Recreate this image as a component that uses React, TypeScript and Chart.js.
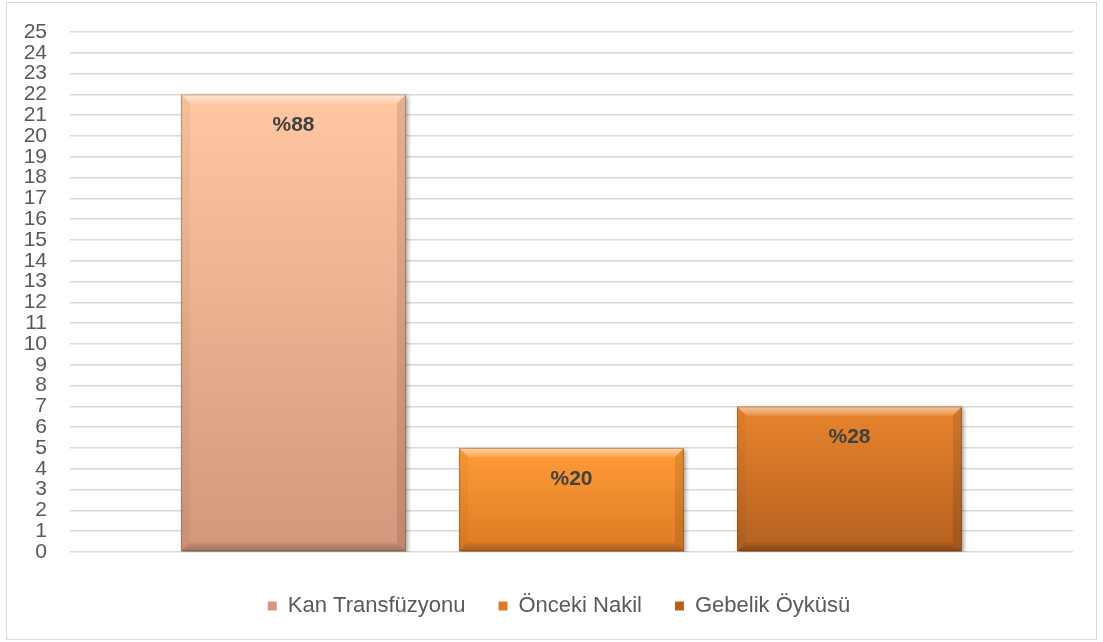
import React, { useEffect, useRef } from "react";
import { Chart, registerables } from "chart.js";

Chart.register(...registerables);

// ---- data ----
const categories = [""];
const seriesNames = ["Kan Transfüzyonu", "Önceki Nakil", "Gebelik Öyküsü"];
const seriesValues = [22, 5, 7];
const percentLabels = ["%88", "%20", "%28"];
const yMin = 0;
const yMax = 25;
const yStep = 1;

// ---- styles ----
const topColors = ["#FFC7A2", "#FF9C36", "#E9842D"];
const bottomColors = ["#D3977C", "#DD7A25", "#B4601F"];
const legendColors = ["#DDA385", "#F0882B", "#CB6E25"];
const FONT = "'Liberation Sans', Arial, sans-serif";

const legendShiftPlugin = {
  id: "legendShift",
  afterLayout(chart: any) {
    const lg = chart.legend;
    if (lg) {
      lg.left += 12.5;
      lg.right += 12.5;
    }
  },
};

const bevelPlugin = {
  id: "bevelBars",
  beforeDatasetDraw(chart: any) {
    const c = chart.ctx;
    c.save();
    c.shadowColor = "rgba(0,0,0,0.35)";
    c.shadowBlur = 4;
    c.shadowOffsetX = 2;
    c.shadowOffsetY = 2;
  },
  afterDatasetDraw(chart: any) {
    chart.ctx.restore();
  },
  afterDatasetsDraw(chart: any) {
    const c = chart.ctx;
    chart.data.datasets.forEach((ds: any, di: number) => {
      const meta = chart.getDatasetMeta(di);
      meta.data.forEach((el: any) => {
        const p = el.getProps(["x", "y", "base", "width"], true);
        const l = p.x - p.width / 2;
        const r = p.x + p.width / 2;
        const t = Math.min(p.y, p.base);
        const b = Math.max(p.y, p.base);
        const bv = Math.min(9, (b - t) / 2);
        c.save();
        let g = c.createLinearGradient(0, t, 0, t + bv);
        g.addColorStop(0, "rgba(255,255,255,0.55)");
        g.addColorStop(1, "rgba(255,255,255,0.15)");
        c.fillStyle = g;
        c.beginPath();
        c.moveTo(l, t);
        c.lineTo(r, t);
        c.lineTo(r - bv, t + bv);
        c.lineTo(l + bv, t + bv);
        c.closePath();
        c.fill();
        g = c.createLinearGradient(0, b - bv, 0, b);
        g.addColorStop(0, "rgba(0,0,0,0.05)");
        g.addColorStop(1, "rgba(0,0,0,0.25)");
        c.fillStyle = g;
        c.beginPath();
        c.moveTo(l, b);
        c.lineTo(r, b);
        c.lineTo(r - bv, b - bv);
        c.lineTo(l + bv, b - bv);
        c.closePath();
        c.fill();
        c.fillStyle = "rgba(0,0,0,0.04)";
        c.beginPath();
        c.moveTo(l, t);
        c.lineTo(l + bv, t + bv);
        c.lineTo(l + bv, b - bv);
        c.lineTo(l, b);
        c.closePath();
        c.fill();
        c.fillStyle = "rgba(0,0,0,0.1)";
        c.beginPath();
        c.moveTo(r, t);
        c.lineTo(r - bv, t + bv);
        c.lineTo(r - bv, b - bv);
        c.lineTo(r, b);
        c.closePath();
        c.fill();
        c.strokeStyle = "rgba(90,50,20,0.35)";
        c.lineWidth = 1;
        c.strokeRect(l + 0.5, t + 0.5, r - l - 1, b - t - 1);
        c.restore();
      });
    });
    c.save();
    c.font = `bold 21px ${FONT}`;
    c.fillStyle = "#404040";
    c.textAlign = "center";
    c.textBaseline = "middle";
    chart.data.datasets.forEach((ds: any, di: number) => {
      const meta = chart.getDatasetMeta(di);
      meta.data.forEach((el: any) => {
        const p = el.getProps(["x", "y"], true);
        c.fillText(percentLabels[di], p.x, p.y + 31);
      });
    });
    c.restore();
  },
};

export default function App() {
  const ref = useRef<HTMLCanvasElement | null>(null);

  useEffect(() => {
    document.body.style.margin = "0";
    if (!ref.current) return;
    const datasets = seriesNames.map((name, i) => ({
      label: name,
      data: [seriesValues[i]],
      borderWidth: 0,
      categoryPercentage: 0.8315,
      barPercentage: 0.809,
      backgroundColor: (ctx: any) => {
        const chart = ctx.chart;
        const ys = chart.scales && chart.scales.y;
        if (ctx.type !== "data" || !ys || !chart.chartArea) return legendColors[i];
        const top = ys.getPixelForValue(seriesValues[i]);
        const bot = ys.getPixelForValue(0);
        if (!isFinite(top) || !isFinite(bot) || top === bot) return legendColors[i];
        const g = chart.ctx.createLinearGradient(0, top, 0, bot);
        g.addColorStop(0, topColors[i]);
        g.addColorStop(1, bottomColors[i]);
        return g;
      },
    }));

    const chart = new Chart(ref.current, {
      type: "bar",
      data: { labels: categories, datasets },
      plugins: [legendShiftPlugin, bevelPlugin],
      options: {
        animation: false,
        responsive: false,
        maintainAspectRatio: false,
        layout: { padding: { left: 20, right: 30, top: 32, bottom: 15 } },
        plugins: {
          tooltip: { enabled: false },
          legend: {
            position: "bottom",
            labels: {
              boxWidth: 9,
              boxHeight: 9,
              padding: 33,
              color: "#595959",
              font: { family: FONT, size: 22 },
            },
          },
        },
        scales: {
          x: {
            display: true,
            grid: { display: false },
            border: { display: false },
            ticks: { display: false },
            afterFit: (s: any) => {
              s.height = 10;
            },
          },
          y: {
            min: yMin,
            max: yMax,
            grid: { color: "#D9D9D9", lineWidth: 1.5, drawTicks: false },
            border: { display: false },
            ticks: {
              stepSize: yStep,
              autoSkip: false,
              padding: 23,
              color: "#595959",
              font: { family: FONT, size: 21 },
            },
            afterFit: (s: any) => {
              s.width = 50;
              s.paddingTop = 0;
              s.paddingBottom = 0;
            },
          },
        },
      },
    });
    return () => chart.destroy();
  }, []);

  return (
    <div
      style={{
        position: "fixed",
        left: 0,
        top: 0,
        width: 1103,
        height: 642,
        overflow: "hidden",
        background: "#fff",
      }}
    >
      <div
        style={{
          position: "absolute",
          left: 6,
          top: 2,
          width: 1091,
          height: 638,
          border: "1.5px solid #D9D9D9",
          boxSizing: "border-box",
        }}
      />
      <canvas
        ref={ref}
        width={1103}
        height={642}
        style={{ position: "absolute", left: 0, top: 0, width: 1103, height: 642 }}
      />
    </div>
  );
}
